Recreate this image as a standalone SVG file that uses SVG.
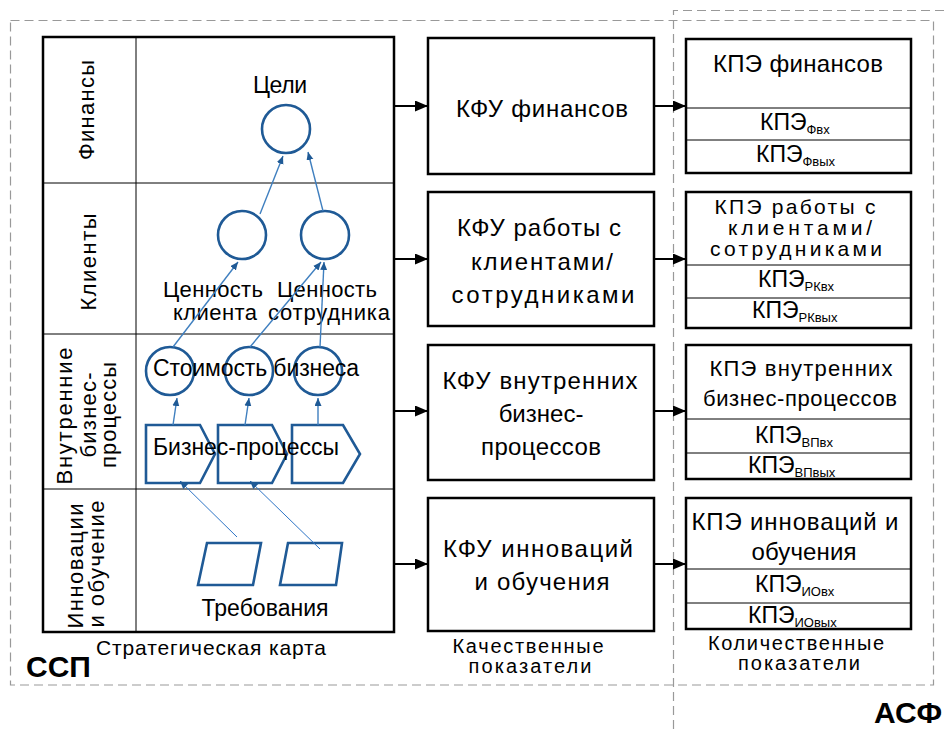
<svg xmlns="http://www.w3.org/2000/svg" width="947" height="729" viewBox="0 0 947 729">
<style>
text{font-family:"Liberation Sans",Arial,sans-serif;fill:#000}
.t24{font-size:24px}
.t23{font-size:23px}
.t22{font-size:22px}
.t21{font-size:21px}
.t20{font-size:20px}
.m{text-anchor:middle}
.box{fill:#fff;stroke:#000;stroke-width:2.5}
.thin{stroke:#000;stroke-width:1;fill:none}
.dash{fill:none;stroke:#999;stroke-width:1.2;stroke-dasharray:9 5}
.shape{fill:#fff;stroke:#1f5a96;stroke-width:2.6}
.blue{stroke:#3f7fbf;stroke-width:1.4;fill:none;marker-end:url(#ab)}
.blue2{stroke:#2e75c6;stroke-width:1;fill:none;marker-end:url(#ab)}
.blk{stroke:#000;stroke-width:2;fill:none;marker-end:url(#ak)}
.sub{font-size:13px}
.kpe{font-size:23px}
.big{font-size:30px;font-weight:bold}
</style>
<defs>
<marker id="ab" markerUnits="userSpaceOnUse" markerWidth="9" markerHeight="8" refX="8" refY="3.5" orient="auto"><path d="M0,0 L8,3.5 L0,7 z" fill="#1f5a96"/></marker>
<marker id="ak" markerUnits="userSpaceOnUse" markerWidth="14" markerHeight="12" refX="13" refY="5.5" orient="auto"><path d="M0,0 L13,5.5 L0,11 z" fill="#000"/></marker>
</defs>

<g id="frame-ssp">
<rect class="dash" x="10.5" y="20.5" width="923" height="664.5"/>
<text class="big" x="26" y="677">ССП</text>
</g>
<g id="frame-asf">
<path class="dash" d="M673.5,729 V10.5 H947"/>
<text class="big" x="874" y="723">АСФ</text>
</g>

<g id="strategy-map">
<rect class="box" x="43" y="37" width="351" height="595"/>
<line class="thin" x1="136" y1="37" x2="136" y2="632"/>
<line class="thin" x1="43" y1="183" x2="394" y2="183"/>
<line class="thin" x1="43" y1="334" x2="394" y2="334"/>
<line class="thin" x1="43" y1="489" x2="394" y2="489"/>
<text class="t22 m" transform="translate(94,110) rotate(-90)" textLength="100">Финансы</text>
<text class="t22 m" transform="translate(96,262) rotate(-90)" textLength="97">Клиенты</text>
<text class="t22 m" transform="translate(72,416) rotate(-90)" textLength="137">Внутренние</text>
<text class="t22 m" transform="translate(96,415) rotate(-90)" textLength="85">бизнес-</text>
<text class="t22 m" transform="translate(116,415) rotate(-90)" textLength="106">процессы</text>
<text class="t22 m" transform="translate(83,566) rotate(-90)" textLength="125">Инновации</text>
<text class="t22 m" transform="translate(104,564) rotate(-90)" textLength="127">и обучение</text>
<text class="t21 m" x="211" y="655" textLength="230">Стратегическая карта</text>
</g>

<g id="goal">
<circle class="shape" cx="286" cy="129" r="24"/>
<text class="t23 m" x="280" y="93" textLength="54">Цели</text>
</g>
<g id="client-value">
<circle class="shape" cx="242" cy="235" r="24"/>
<text class="t22 m" x="213" y="297" textLength="100">Ценность</text>
<text class="t22 m" x="215" y="320" textLength="84">клиента</text>
</g>
<g id="employee-value">
<circle class="shape" cx="325" cy="235" r="24"/>
<text class="t22 m" x="327" y="297" textLength="100">Ценность</text>
<text class="t22 m" x="329" y="320" textLength="122">сотрудника</text>
</g>
<g id="business-cost">
<circle class="shape" cx="170" cy="371" r="24"/>
<circle class="shape" cx="249" cy="371" r="24"/>
<circle class="shape" cx="318" cy="371" r="24"/>
<text class="t23 m" x="256" y="376" textLength="206">Стоимость бизнеса</text>
</g>
<g id="business-processes">
<path class="shape" d="M146,425 H200 L215,454 L200,483 H146 Z"/>
<path class="shape" d="M218,425 H272 L287,454 L272,483 H218 Z"/>
<path class="shape" d="M292,425 H343 L360,454 L343,483 H292 Z"/>
<text class="t23 m" x="246" y="455" textLength="186">Бизнес-процессы</text>
</g>
<g id="requirements">
<path class="shape" d="M207,543 H261 L253,585 H198 Z"/>
<path class="shape" d="M288,543 H342 L336,585 H280 Z"/>
<text class="t23 m" x="265" y="616" textLength="127">Требования</text>
</g>

<g id="kfu-fin">
<rect class="box" x="428" y="38" width="226" height="136"/>
<text class="t24 m" x="542" y="117" textLength="172">КФУ финансов</text>
</g>
<g id="kfu-clients">
<rect class="box" x="428" y="192" width="226" height="134"/>
<text class="t24 m" x="539" y="236" textLength="164">КФУ работы с</text>
<text class="t24 m" x="542" y="270" textLength="142">клиентами/</text>
<text class="t24 m" x="543" y="303" textLength="183">сотрудниками</text>
</g>
<g id="kfu-processes">
<rect class="box" x="428" y="345" width="226" height="135"/>
<text class="t24 m" x="540" y="389" textLength="195">КФУ внутренних</text>
<text class="t24 m" x="541" y="422">бизнес-</text>
<text class="t24 m" x="541" y="455" textLength="120">процессов</text>
</g>
<g id="kfu-innov">
<rect class="box" x="428" y="498" width="226" height="133"/>
<text class="t24 m" x="538" y="557" textLength="190">КФУ инноваций</text>
<text class="t24 m" x="542" y="590" textLength="135">и обучения</text>
<text class="t20 m" x="528" y="653" textLength="151">Качественные</text>
<text class="t20 m" x="530" y="673" textLength="123">показатели</text>
</g>

<g id="kpe-fin">
<rect class="box" x="686" y="39" width="225" height="134"/>
<line class="thin" x1="686" y1="108" x2="911" y2="108"/>
<line class="thin" x1="686" y1="140" x2="911" y2="140"/>
<text class="t24 m" x="798" y="72" textLength="170">КПЭ финансов</text>
<text x="760" y="130"><tspan class="kpe">КПЭ</tspan><tspan class="sub" dy="4">Фвх</tspan></text>
<text x="756" y="162"><tspan class="kpe">КПЭ</tspan><tspan class="sub" dy="4">Фвых</tspan></text>
</g>
<g id="kpe-clients">
<rect class="box" x="686" y="192" width="225" height="136"/>
<line class="thin" x1="686" y1="265" x2="911" y2="265"/>
<line class="thin" x1="686" y1="298" x2="911" y2="298"/>
<text class="t21 m" x="795" y="214" textLength="161">КПЭ работы с</text>
<text class="t21 m" x="800" y="235" textLength="144">клиентами/</text>
<text class="t21 m" x="796" y="256" textLength="172">сотрудниками</text>
<text x="758" y="287"><tspan class="kpe">КПЭ</tspan><tspan class="sub" dy="4">РКвх</tspan></text>
<text x="752" y="318"><tspan class="kpe">КПЭ</tspan><tspan class="sub" dy="4">РКвых</tspan></text>
</g>
<g id="kpe-processes">
<rect class="box" x="686" y="345" width="225" height="134"/>
<line class="thin" x1="686" y1="419" x2="911" y2="419"/>
<line class="thin" x1="686" y1="453" x2="911" y2="453"/>
<text class="t22 m" x="801" y="376" textLength="183">КПЭ внутренних</text>
<text class="t22 m" x="800" y="406" textLength="194">бизнес-процессов</text>
<text x="755" y="443"><tspan class="kpe">КПЭ</tspan><tspan class="sub" dy="4">ВПвх</tspan></text>
<text x="748" y="473"><tspan class="kpe">КПЭ</tspan><tspan class="sub" dy="4">ВПвых</tspan></text>
</g>
<g id="kpe-innov">
<rect class="box" x="686" y="498" width="225" height="131"/>
<line class="thin" x1="686" y1="569" x2="911" y2="569"/>
<line class="thin" x1="686" y1="603" x2="911" y2="603"/>
<text class="t24 m" x="795" y="530" textLength="207">КПЭ инноваций и</text>
<text class="t24 m" x="804" y="560" textLength="105">обучения</text>
<text x="755" y="592"><tspan class="kpe">КПЭ</tspan><tspan class="sub" dy="4">ИОвх</tspan></text>
<text x="748" y="623"><tspan class="kpe">КПЭ</tspan><tspan class="sub" dy="4">ИОвых</tspan></text>
<text class="t20 m" x="796" y="650" textLength="176">Количественные</text>
<text class="t20 m" x="799" y="670" textLength="122">показатели</text>
</g>

<g id="connectors">
<line class="blue" x1="260" y1="214" x2="283" y2="156"/>
<line class="blue" x1="323" y1="211" x2="308" y2="152"/>
<line class="blue" x1="173" y1="347" x2="238" y2="262"/>
<line class="blue" x1="250" y1="347" x2="321" y2="262"/>
<line class="blue" x1="320" y1="347" x2="324" y2="262"/>
<line class="blue" x1="173" y1="425" x2="177" y2="398"/>
<line class="blue" x1="245" y1="425" x2="249" y2="398"/>
<line class="blue" x1="318" y1="425" x2="318" y2="398"/>
<line class="blue2" x1="237" y1="537" x2="180" y2="481"/>
<line class="blue2" x1="320" y1="549" x2="250" y2="481"/>
<line class="blk" x1="394" y1="106" x2="428" y2="106"/>
<line class="blk" x1="394" y1="259" x2="428" y2="259"/>
<line class="blk" x1="394" y1="411" x2="428" y2="411"/>
<line class="blk" x1="394" y1="564" x2="428" y2="564"/>
<line class="blk" x1="654" y1="106" x2="686" y2="106"/>
<line class="blk" x1="654" y1="259" x2="686" y2="259"/>
<line class="blk" x1="654" y1="411" x2="686" y2="411"/>
<line class="blk" x1="654" y1="564" x2="686" y2="564"/>
</g>
</svg>
